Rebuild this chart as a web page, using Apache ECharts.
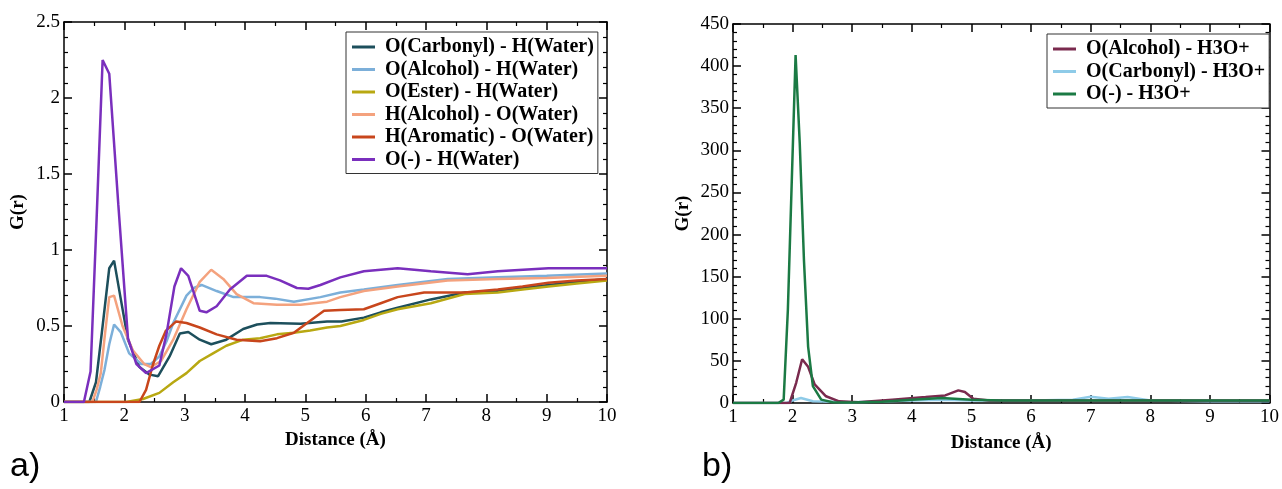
<!DOCTYPE html>
<html>
<head>
<meta charset="utf-8">
<script src="https://cdn.jsdelivr.net/npm/echarts@6/dist/echarts.min.js"></script>
<style>html,body{margin:0;padding:0;background:#fff;}#c{width:1282px;height:489px;}</style>
</head>
<body>
<div id="c"></div>
<script>
// ---- Panel a) data: [distance, G(r)] ----
const oCarbonylHWater = [[1,0],[1.42,0],[1.53,0.13],[1.64,0.5],[1.75,0.88],[1.83,0.93],[1.94,0.68],[2.06,0.41],[2.25,0.23],[2.42,0.18],[2.56,0.17],[2.75,0.30],[2.92,0.45],[3.06,0.46],[3.25,0.41],[3.44,0.38],[3.69,0.41],[3.97,0.48],[4.2,0.51],[4.42,0.52],[4.92,0.515],[5.36,0.53],[5.6,0.53],[5.97,0.555],[6.25,0.59],[6.53,0.62],[7.08,0.675],[7.64,0.72],[8.19,0.73],[8.6,0.75],[9.03,0.77],[9.5,0.79],[10,0.81]];
const oAlcoholHWater = [[1,0],[1.53,0],[1.6,0.1],[1.67,0.21],[1.75,0.38],[1.83,0.51],[1.94,0.46],[2.08,0.32],[2.28,0.25],[2.44,0.25],[2.58,0.30],[2.7,0.4],[2.81,0.52],[3.03,0.70],[3.15,0.75],[3.28,0.77],[3.53,0.73],[3.81,0.69],[4.25,0.69],[4.5,0.68],[4.81,0.66],[5.25,0.69],[5.58,0.72],[5.97,0.74],[6.53,0.77],[7.36,0.81],[8.19,0.82],[9,0.83],[10,0.845]];
const oEsterHWater = [[1,0],[2.03,0],[2.31,0.02],[2.58,0.06],[2.81,0.13],[3.03,0.19],[3.25,0.27],[3.47,0.32],[3.69,0.37],[3.97,0.41],[4.25,0.42],[4.53,0.445],[4.81,0.456],[5.08,0.47],[5.36,0.49],[5.58,0.50],[5.97,0.54],[6.25,0.58],[6.53,0.61],[7.08,0.65],[7.64,0.71],[8.19,0.72],[8.6,0.74],[9.03,0.76],[9.5,0.78],[10,0.80]];
const hAlcoholOWater = [[1,0],[1.47,0],[1.54,0.08],[1.61,0.19],[1.68,0.45],[1.75,0.69],[1.83,0.70],[1.97,0.50],[2.14,0.34],[2.33,0.25],[2.44,0.23],[2.61,0.27],[2.81,0.41],[3.03,0.61],[3.25,0.79],[3.44,0.87],[3.64,0.81],[3.86,0.71],[4.14,0.65],[4.53,0.64],[4.92,0.64],[5.36,0.66],[5.58,0.69],[5.97,0.73],[6.53,0.76],[7.36,0.80],[8.19,0.81],[9,0.815],[10,0.83]];
const hAromaticOWater = [[1,0],[2.25,0],[2.36,0.08],[2.47,0.24],[2.58,0.37],[2.69,0.47],[2.86,0.53],[3.03,0.52],[3.25,0.49],[3.53,0.445],[3.86,0.41],[4.25,0.40],[4.53,0.42],[4.81,0.456],[5.03,0.52],[5.31,0.60],[5.58,0.605],[5.97,0.61],[6.25,0.65],[6.53,0.69],[6.97,0.72],[7.64,0.72],[8.19,0.74],[8.6,0.76],[9.03,0.785],[9.5,0.80],[10,0.81]];
const oMinusHWater = [[1,0],[1.33,0],[1.44,0.2],[1.54,1.2],[1.64,2.25],[1.75,2.16],[1.9,1.3],[2.06,0.42],[2.2,0.25],[2.36,0.19],[2.58,0.24],[2.7,0.45],[2.83,0.76],[2.94,0.88],[3.06,0.83],[3.25,0.6],[3.36,0.59],[3.53,0.63],[3.75,0.74],[4.03,0.83],[4.36,0.83],[4.58,0.8],[4.86,0.75],[5.05,0.745],[5.25,0.77],[5.58,0.82],[5.97,0.86],[6.53,0.88],[7.08,0.86],[7.69,0.84],[8.19,0.86],[9.03,0.88],[10,0.88]];

// ---- Panel b) data ----
const oAlcoholH3O = [[1,0],[1.95,0],[2.06,24],[2.16,52],[2.26,43],[2.37,22],[2.56,8],[2.78,2],[3.1,1],[3.67,4],[4.23,7],[4.56,9],[4.78,15],[4.89,13],[5.03,5],[5.3,3],[6,3],[7,3],[8,3],[9,3],[10,3]];
const oCarbonylH3O = [[1,0],[1.9,0],[2.0,3],[2.14,6],[2.34,2],[3,1],[4,3],[4.5,4],[5,3],[6,3],[6.7,4],[7,7.5],[7.3,5],[7.62,7],[8,3],[9,2],[10,2]];
const oMinusH3O = [[1,0],[1.76,0],[1.85,4],[1.92,110],[2.05,413],[2.12,308],[2.19,170],[2.26,67],[2.34,20],[2.48,4],[2.67,1],[3,0.5],[3.5,1.5],[4,4],[4.5,6],[5,4],[5.5,3],[6,3],[7,3],[8,3],[9,3],[10,3]];

const xTicks = {min:1, max:10, interval:1};
const yTicksA = {min:0, max:2.5, interval:0.5};
const yTicksB = {min:0, max:450, interval:50};

const namesA = ['O(Carbonyl) - H(Water)','O(Alcohol) - H(Water)','O(Ester) - H(Water)','H(Alcohol) - O(Water)','H(Aromatic) - O(Water)','O(-) - H(Water)'];
const dataA = [oCarbonylHWater,oAlcoholHWater,oEsterHWater,hAlcoholOWater,hAromaticOWater,oMinusHWater];
const colorsA = ['#1d4f5c','#7cafd9','#b8a812','#f4a27e','#c8461c','#7a2fbd'];
const namesB = ['O(Alcohol) - H3O+','O(Carbonyl) - H3O+','O(-) - H3O+'];
const dataB = [oAlcoholH3O,oCarbonylH3O,oMinusH3O];
const colorsB = ['#7a2a4e','#8ecbe8','#1b7a44'];

const serif = 'Liberation Serif';
const axisLine = {show:true, onZero:false, lineStyle:{color:'#000', width:1.5}};
const tick = {show:true, inside:true, length:8, lineStyle:{color:'#000', width:1.5}};
const minor = (n)=>({show:true, splitNumber:n, length:4, lineStyle:{color:'#000', width:1.2}});
const lbl = {color:'#000', fontFamily:serif, fontSize:19};
const nameStyle = {color:'#000', fontFamily:serif, fontSize:19, fontWeight:'bold'};

function xAxes(grid, ticks, nameGap){
  return [
    Object.assign({type:'value', gridIndex:grid, position:'bottom', name:'Distance (Å)', nameLocation:'middle', nameGap:nameGap,
      nameTextStyle:nameStyle,
      axisLine:axisLine, axisTick:tick, minorTick:minor(2), splitLine:{show:false}, axisLabel:Object.assign({margin:5, showMinLabel:true, showMaxLabel:true}, lbl)}, ticks),
    Object.assign({type:'value', gridIndex:grid, position:'top', axisLine:axisLine, axisTick:tick, minorTick:minor(2), splitLine:{show:false}, axisLabel:{show:false}}, ticks)
  ];
}
function yAxes(grid, ticks, nameGap){
  return [
    Object.assign({type:'value', gridIndex:grid, position:'left', name:'G(r)', nameLocation:'middle', nameGap:nameGap,
      nameTextStyle:nameStyle,
      axisLine:axisLine, axisTick:tick, minorTick:minor(5), splitLine:{show:false}, axisLabel:Object.assign({margin:4}, lbl)}, ticks),
    Object.assign({type:'value', gridIndex:grid, position:'right', axisLine:axisLine, axisTick:tick, minorTick:minor(5), splitLine:{show:false}, axisLabel:{show:false}}, ticks)
  ];
}

const series = [];
dataA.forEach((d,i)=>series.push({type:'line', name:namesA[i], data:d, xAxisIndex:0, yAxisIndex:0, symbol:'none', smooth:false, z:2+i,
  lineStyle:{color:colorsA[i], width:2.5}, itemStyle:{color:colorsA[i]}}));
dataB.forEach((d,i)=>series.push({type:'line', name:namesB[i], data:d, xAxisIndex:2, yAxisIndex:2, symbol:'none', smooth:false, z:[3,2,4][i],
  lineStyle:{color:colorsB[i], width:2.5}, itemStyle:{color:colorsB[i]}}));

const legendBase = {orient:'vertical', icon:'rect', itemWidth:23, itemHeight:3, itemGap:2.5, backgroundColor:'#fff',
  borderColor:'#333', borderWidth:1, padding:[5,4,4,6], selectedMode:false,
  textStyle:{color:'#000', fontFamily:serif, fontSize:20, fontWeight:'bold', padding:[0,0,0,5]}};

const option = {
  animation:false,
  backgroundColor:'#fff',
  grid:[{left:64, top:22, width:543, height:380}, {left:733, top:24, width:540, height:379}],
  xAxis:[...xAxes(0, xTicks, 29), ...xAxes(1, xTicks, 31)],
  yAxis:[...yAxes(0, yTicksA, 36), ...yAxes(1, yTicksB, 40)],
  legend:[Object.assign({left:346, top:32, data:namesA}, legendBase), Object.assign({left:1047, top:34, data:namesB}, legendBase)],
  graphic:[
    {type:'text', left:10, top:450, style:{text:'a)', font:'34px "Liberation Sans"', fill:'#000'}},
    {type:'text', left:702, top:450, style:{text:'b)', font:'34px "Liberation Sans"', fill:'#000'}}
  ],
  series:series
};
option.xAxis[1].gridIndex=0; option.xAxis[2].gridIndex=1; option.xAxis[3].gridIndex=1;
option.yAxis[1].gridIndex=0; option.yAxis[2].gridIndex=1; option.yAxis[3].gridIndex=1;
const chart = echarts.init(document.getElementById('c'), null, {renderer:'canvas'});
chart.setOption(option);
</script>
</body>
</html>
